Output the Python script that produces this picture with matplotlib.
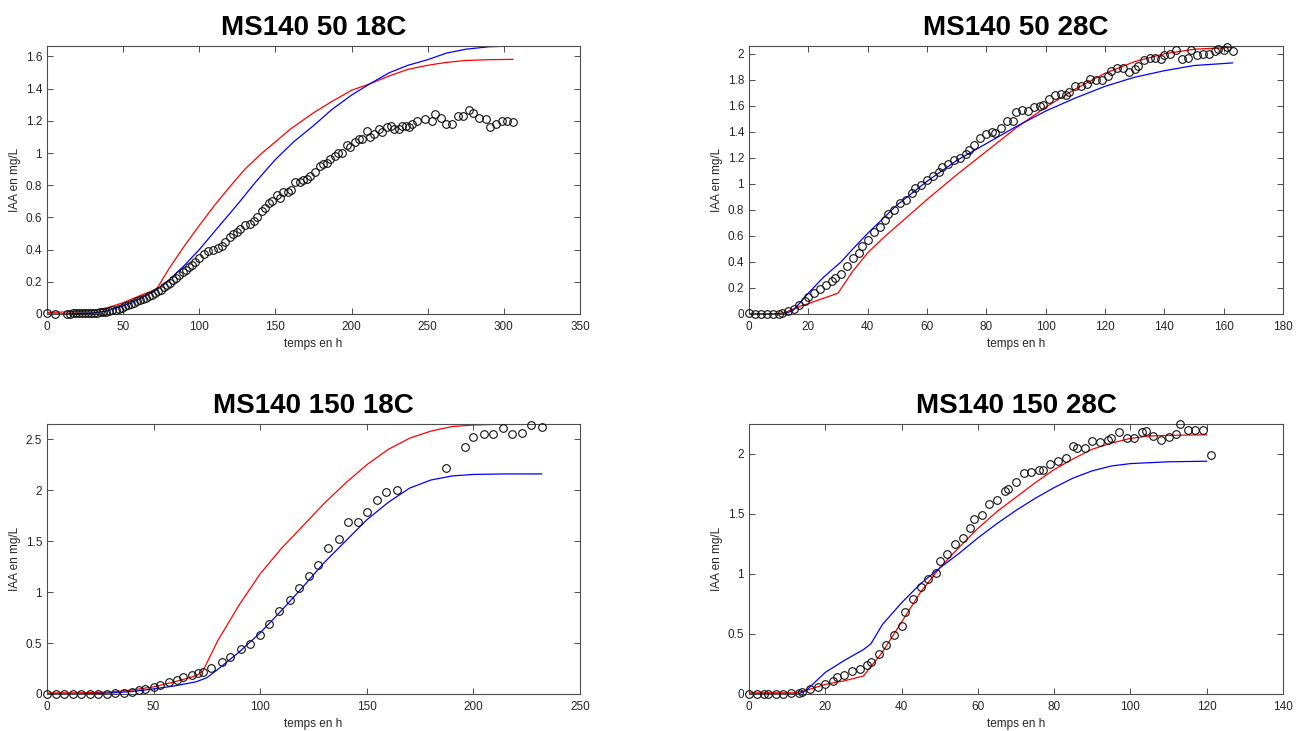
import matplotlib
matplotlib.use("Agg")
import matplotlib.pyplot as plt
from matplotlib.ticker import FuncFormatter

# ── MS140 50 18C ──────────────────────────────────────────────────────────────
p1_x = [0, 5, 13, 15, 17, 19, 21, 23, 25, 27, 29, 31, 33, 35, 37, 39, 41, 43, 45,
        47, 49, 51, 53, 55, 57, 59, 61, 63, 65, 67, 69, 71, 73, 75, 77, 79, 81,
        83, 85, 87, 89, 91, 93, 95, 97, 100, 103, 106, 109, 112, 115, 117, 120,
        122, 125, 127, 130, 133, 136, 138, 141, 143, 146, 148, 151, 153, 155,
        158, 160, 163, 166, 168, 171, 173, 176, 179, 181, 184, 186, 189, 191,
        194, 197, 199, 202, 205, 207, 210, 212, 215, 218, 220, 223, 226, 228,
        231, 233, 236, 238, 240, 243, 248, 253, 255, 259, 262, 266, 270, 273,
        277, 280, 284, 288, 291, 295, 299, 302, 306]
p1_y = [0.005, 0.0, 0.0, 0.003, 0.004, 0.005, 0.005, 0.006, 0.006, 0.006, 0.006,
        0.007, 0.008, 0.01, 0.012, 0.015, 0.018, 0.022, 0.027, 0.033, 0.04,
        0.047, 0.055, 0.063, 0.07, 0.078, 0.086, 0.094, 0.10, 0.11, 0.12, 0.13,
        0.14, 0.15, 0.165, 0.18, 0.195, 0.21, 0.225, 0.24, 0.26, 0.275, 0.29,
        0.305, 0.32, 0.35, 0.37, 0.39, 0.40, 0.41, 0.42, 0.45, 0.48, 0.50, 0.51,
        0.53, 0.55, 0.56, 0.58, 0.60, 0.64, 0.66, 0.69, 0.70, 0.74, 0.72, 0.76,
        0.76, 0.77, 0.82, 0.82, 0.83, 0.84, 0.86, 0.88, 0.92, 0.93, 0.94, 0.96,
        0.98, 1.00, 1.00, 1.05, 1.04, 1.07, 1.09, 1.09, 1.14, 1.10, 1.12, 1.15,
        1.13, 1.16, 1.17, 1.15, 1.15, 1.17, 1.17, 1.16, 1.18, 1.20, 1.21, 1.20,
        1.24, 1.22, 1.18, 1.18, 1.23, 1.23, 1.27, 1.25, 1.22, 1.21, 1.16, 1.18,
        1.20, 1.20, 1.19]
p1_red_x = [0, 10, 20, 30, 40, 50, 60, 72, 80, 90, 100, 110, 120, 130, 140, 150,
            160, 175, 187, 200, 212, 225, 237, 250, 262, 275, 290, 306]
p1_red_y = [0.01, 0.012, 0.015, 0.02, 0.04, 0.07, 0.11, 0.155, 0.28, 0.42, 0.55,
            0.675, 0.79, 0.90, 0.99, 1.07, 1.15, 1.25, 1.32, 1.39, 1.43, 1.48,
            1.52, 1.545, 1.563, 1.575, 1.58, 1.582]
p1_blue_x = [0, 10, 20, 30, 40, 50, 60, 72, 80, 90, 100, 112, 125, 137, 150, 162,
             175, 187, 200, 212, 225, 237, 250, 262, 275, 290, 306]
p1_blue_y = [0.0, 0.0, 0.002, 0.006, 0.02, 0.05, 0.09, 0.15, 0.21, 0.30, 0.40,
             0.535, 0.68, 0.82, 0.96, 1.07, 1.17, 1.27, 1.36, 1.43, 1.50, 1.545,
             1.58, 1.62, 1.645, 1.66, 1.665]

# ── MS140 50 28C ──────────────────────────────────────────────────────────────
p2_x = [0, 2, 4, 6, 8, 10, 11, 13, 15, 17, 19, 20, 22, 24, 26, 28, 29, 31, 33,
        35, 37, 38, 40, 42, 44, 46, 47, 49, 51, 53, 55, 56, 58, 60, 62, 64, 65,
        67, 69, 71, 73, 74, 76, 78, 80, 82, 83, 85, 87, 89, 90, 92, 94, 96, 98,
        99, 101, 103, 105, 107, 108, 110, 112, 114, 115, 117, 119, 121, 122,
        124, 126, 128, 130, 131, 133, 135, 137, 139, 140, 142, 144, 146, 148,
        149, 151, 153, 155, 157, 158, 160, 161, 163]
p2_y = [0.01, 0.0, 0.0, 0.0, 0.0, 0.0, 0.01, 0.02, 0.04, 0.07, 0.10, 0.13, 0.16,
        0.19, 0.22, 0.25, 0.28, 0.31, 0.37, 0.43, 0.47, 0.52, 0.57, 0.63, 0.67,
        0.72, 0.77, 0.80, 0.85, 0.88, 0.93, 0.97, 0.99, 1.03, 1.06, 1.09, 1.13,
        1.15, 1.18, 1.20, 1.23, 1.26, 1.30, 1.35, 1.38, 1.40, 1.39, 1.43, 1.48,
        1.48, 1.55, 1.57, 1.56, 1.59, 1.60, 1.61, 1.65, 1.68, 1.69, 1.68, 1.71,
        1.75, 1.75, 1.77, 1.81, 1.80, 1.80, 1.83, 1.87, 1.89, 1.89, 1.86, 1.88,
        1.91, 1.95, 1.97, 1.97, 1.96, 1.99, 2.00, 2.03, 1.96, 1.97, 2.03, 1.99,
        2.00, 2.00, 2.02, 2.04, 2.03, 2.05, 2.02]
p2_red_x = [0, 8, 12, 16, 20, 25, 30, 35, 40, 45, 50, 55, 60, 70, 80, 90, 100,
            110, 120, 130, 140, 150, 163]
p2_red_y = [0.0, 0.0, 0.01, 0.05, 0.08, 0.12, 0.16, 0.33, 0.47, 0.58, 0.68, 0.78,
            0.88, 1.07, 1.25, 1.43, 1.59, 1.73, 1.85, 1.94, 2.00, 2.035, 2.05]
p2_blue_x = [0, 8, 12, 15, 20, 25, 31, 35, 40, 45, 50, 55, 60, 70, 80, 90, 100,
             110, 120, 130, 140, 150, 163]
p2_blue_y = [0.0, 0.0, 0.0, 0.03, 0.16, 0.28, 0.40, 0.50, 0.62, 0.73, 0.84, 0.93,
             1.02, 1.18, 1.31, 1.44, 1.56, 1.66, 1.75, 1.82, 1.87, 1.91, 1.93]

# ── MS140 150 18C ─────────────────────────────────────────────────────────────
p3_x = [0, 4, 8, 12, 16, 20, 24, 28, 32, 36, 40, 43, 46, 50, 53, 57, 61, 64, 68,
        71, 73, 77, 82, 86, 91, 95, 100, 104, 109, 114, 118, 123, 127, 132, 137,
        141, 146, 150, 155, 159, 164, 187, 196, 200, 205, 209, 214, 218, 223,
        227, 232]
p3_y = [0.0, 0.0, 0.0, 0.0, 0.0, 0.0, 0.0, 0.0, 0.01, 0.01, 0.02, 0.04, 0.05,
        0.07, 0.09, 0.12, 0.14, 0.17, 0.19, 0.21, 0.22, 0.26, 0.31, 0.36, 0.44,
        0.49, 0.58, 0.69, 0.81, 0.92, 1.04, 1.16, 1.27, 1.43, 1.52, 1.69, 1.69,
        1.79, 1.90, 1.98, 2.00, 2.22, 2.42, 2.52, 2.55, 2.55, 2.61, 2.55, 2.56,
        2.64, 2.62]
p3_red_x = [0, 15, 30, 40, 50, 60, 70, 73, 80, 90, 100, 110, 120, 130, 140, 150,
            160, 170, 180, 190, 200, 215, 232]
p3_red_y = [0.01, 0.012, 0.02, 0.04, 0.07, 0.12, 0.18, 0.22, 0.52, 0.87, 1.18,
            1.43, 1.65, 1.87, 2.07, 2.25, 2.40, 2.51, 2.58, 2.625, 2.64, 2.65, 2.65]
p3_blue_x = [0, 15, 30, 40, 50, 60, 70, 75, 80, 90, 100, 110, 120, 130, 140, 150,
             160, 170, 180, 190, 200, 215, 232]
p3_blue_y = [0.0, 0.0, 0.01, 0.025, 0.05, 0.08, 0.12, 0.16, 0.24, 0.41, 0.60,
             0.82, 1.05, 1.29, 1.50, 1.71, 1.88, 2.02, 2.10, 2.14, 2.155, 2.16, 2.16]

# ── MS140 150 28C ─────────────────────────────────────────────────────────────
p4_x = [0, 2, 4, 5, 7, 9, 11, 13, 14, 16, 18, 20, 22, 23, 25, 27, 29, 31, 32,
        34, 36, 38, 40, 41, 43, 45, 47, 49, 50, 52, 54, 56, 58, 59, 61, 63, 65,
        67, 68, 70, 72, 74, 76, 77, 79, 81, 83, 85, 86, 88, 90, 92, 94, 95, 97,
        99, 101, 103, 104, 106, 108, 110, 112, 113, 115, 117, 119, 121]
p4_y = [0.0, 0.0, 0.0, 0.0, 0.0, 0.0, 0.01, 0.01, 0.02, 0.04, 0.06, 0.08, 0.11,
        0.14, 0.16, 0.19, 0.21, 0.24, 0.27, 0.33, 0.41, 0.49, 0.57, 0.68, 0.79,
        0.89, 0.96, 1.01, 1.11, 1.17, 1.25, 1.30, 1.38, 1.46, 1.49, 1.58, 1.62,
        1.69, 1.71, 1.77, 1.84, 1.85, 1.87, 1.87, 1.92, 1.94, 1.97, 2.07, 2.05,
        2.05, 2.11, 2.10, 2.12, 2.13, 2.18, 2.13, 2.13, 2.18, 2.19, 2.15, 2.12,
        2.14, 2.17, 2.25, 2.20, 2.20, 2.20, 1.99]
p4_red_x = [0, 12, 15, 20, 25, 30, 35, 40, 45, 50, 55, 60, 65, 70, 75, 80, 85, 90,
            95, 100, 105, 110, 120]
p4_red_y = [0.01, 0.01, 0.03, 0.08, 0.11, 0.15, 0.35, 0.60, 0.85, 1.05, 1.22,
            1.38, 1.52, 1.64, 1.76, 1.87, 1.96, 2.04, 2.09, 2.13, 2.15, 2.155, 2.16]
p4_blue_x = [0, 13, 15, 20, 25, 30, 32, 35, 40, 45, 50, 55, 60, 65, 70, 75, 80, 85,
             90, 95, 100, 110, 120]
p4_blue_y = [0.0, 0.0, 0.03, 0.18, 0.28, 0.37, 0.42, 0.58, 0.76, 0.92, 1.05, 1.17,
             1.30, 1.42, 1.53, 1.63, 1.72, 1.80, 1.86, 1.90, 1.92, 1.935, 1.94]

TITLES = ["MS140 50 18C", "MS140 50 28C", "MS140 150 18C", "MS140 150 28C"]
XMAX = [350, 180, 250, 140]
XSTEP = [50, 20, 50, 20]
YMAX = [1.665, 2.06, 2.65, 2.25]
YSTEP = [0.2, 0.2, 0.5, 0.5]

# ── plot ──────────────────────────────────────────────────────────────────────
plt.rcParams["font.family"] = ["Liberation Sans", "DejaVu Sans"]
TXT = "#262626"
FRAME = "#4d4d4d"

fig = plt.figure(figsize=(13.06, 7.31), dpi=100)
W, H = 1306, 731
boxes = [(47, 46, 580, 314), (749, 46, 1283, 314),
         (47, 424, 580, 694), (749, 424, 1283, 694)]
panels = [
    (p1_x, p1_y, p1_red_x, p1_red_y, p1_blue_x, p1_blue_y),
    (p2_x, p2_y, p2_red_x, p2_red_y, p2_blue_x, p2_blue_y),
    (p3_x, p3_y, p3_red_x, p3_red_y, p3_blue_x, p3_blue_y),
    (p4_x, p4_y, p4_red_x, p4_red_y, p4_blue_x, p4_blue_y),
]

fmt = FuncFormatter(lambda v, pos: f"{v:g}")
for i, (px, py, rx, ry, bx, by) in enumerate(panels):
    l, t, r, b = boxes[i]
    ax = fig.add_axes([l / W, 1 - b / H, (r - l) / W, (b - t) / H])
    ax.plot(px, py, "o", mfc="none", mec="#111111", ms=5.5, mew=0.8,
            clip_on=False, zorder=3)
    ax.plot(rx, ry, color="red", lw=0.9, zorder=2)
    ax.plot(bx, by, color="blue", lw=0.9, zorder=2)

    ax.set_xlim(0, XMAX[i])
    ax.set_ylim(0, YMAX[i])
    n_x = int(round(XMAX[i] / XSTEP[i]))
    ax.set_xticks([k * XSTEP[i] for k in range(n_x + 1)])
    n_y = int(YMAX[i] / YSTEP[i] + 1e-6)
    ax.set_yticks([round(k * YSTEP[i], 2) for k in range(n_y + 1)])
    ax.xaxis.set_major_formatter(fmt)
    ax.yaxis.set_major_formatter(fmt)
    ax.tick_params(direction="in", length=4, width=0.7, colors=FRAME,
                   labelcolor=TXT, labelsize=8.5, top=True, right=True)
    ax.tick_params(axis="x", pad=5)
    ax.tick_params(axis="y", pad=3.5)
    for s in ax.spines.values():
        s.set_color(FRAME)
        s.set_linewidth(0.8)

    ax.set_xlabel("temps en h", fontsize=8.5, color=TXT, labelpad=3.5)
    ax.set_ylabel("IAA en mg/L", fontsize=8.5, color=TXT, labelpad=3)
    ax.set_title(TITLES[i], fontsize=20, fontweight="bold", color="black", pad=8)

fig.savefig("out.png", dpi=100, facecolor="white")
